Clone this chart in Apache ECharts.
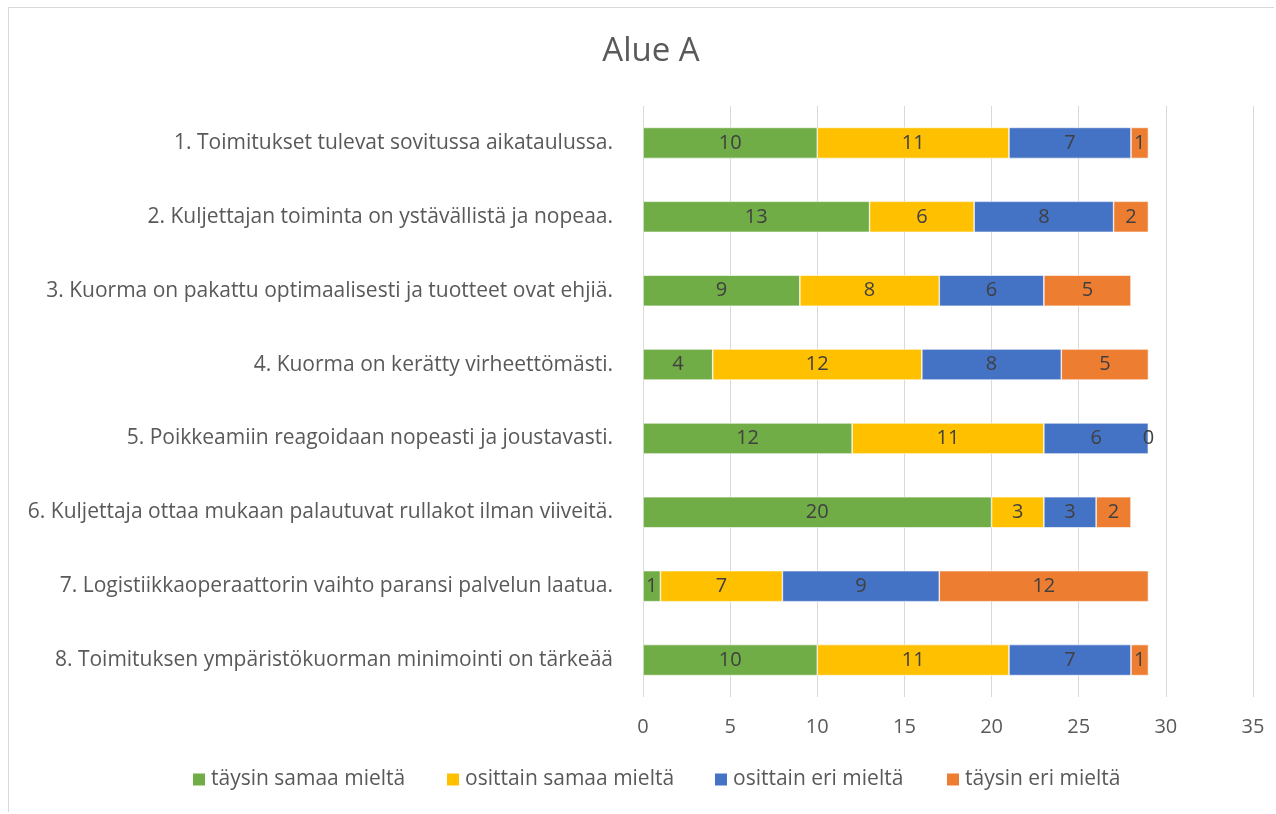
<!DOCTYPE html>
<html><head><meta charset="utf-8">
<script src="https://cdn.jsdelivr.net/npm/echarts@6/dist/echarts.min.js"></script>
<style>
html,body{margin:0;padding:0;background:#fff;}
#frame{position:absolute;left:8px;top:7px;width:1266px;height:805px;border-left:1px solid #d9d9d9;border-top:1px solid #d9d9d9;box-sizing:border-box;}
#c{position:absolute;left:0;top:0;width:1276px;height:814px;}
</style></head>
<body>
<div id="frame"></div>
<div id="c"></div>
<script>
const categories = [
  "1. Toimitukset tulevat sovitussa aikataulussa.",
  "2. Kuljettajan toiminta on ystävällistä ja nopeaa.",
  "3. Kuorma on pakattu optimaalisesti ja tuotteet ovat ehjiä.",
  "4. Kuorma on kerätty virheettömästi.",
  "5. Poikkeamiin reagoidaan nopeasti ja joustavasti.",
  "6. Kuljettaja ottaa mukaan palautuvat rullakot ilman viiveitä.",
  "7. Logistiikkaoperaattorin vaihto paransi palvelun laatua.",
  "8. Toimituksen ympäristökuorman minimointi on tärkeää"
];
const seriesNames = ["täysin samaa mieltä","osittain samaa mieltä","osittain eri mieltä","täysin eri mieltä"];
const taysinSamaa = [10,13,9,4,12,20,1,10];
const osittainSamaa = [11,6,8,12,11,3,7,11];
const osittainEri = [7,8,6,8,6,3,9,7];
const taysinEri = [1,2,5,5,0,2,12,1];
const colors = ["#70AD47","#FFC000","#4472C4","#ED7D31"];
const values = [taysinSamaa, osittainSamaa, osittainEri, taysinEri];
const legendLefts = [191, 445, 713, 945];
const font = "'Open Sans', 'Noto Sans', sans-serif";

const chart = echarts.init(document.getElementById('c'));
chart.setOption({
  animation:false,
  textStyle:{fontFamily:font},
  title:{text:"Alue A",left:646,top:30,textAlign:'center',textStyle:{fontFamily:font,fontSize:33,fontWeight:'normal',color:'#595959'}},
  legend: seriesNames.map((n,i)=>({bottom:24,left:legendLefts[i],padding:0,itemWidth:14,itemHeight:14,icon:'rect',
    textStyle:{fontFamily:font,fontSize:21,color:'#595959'},data:[n]})),
  grid:{left:643,right:23,top:106,bottom:117,containLabel:false},
  xAxis:{type:'value',min:0,max:35,interval:5,
    axisLabel:{fontSize:20,color:'#595959',margin:20,fontFamily:font},
    splitLine:{lineStyle:{color:'#d9d9d9',width:1}},axisLine:{show:false},axisTick:{show:false}},
  yAxis:{type:'category',inverse:true,data:categories,
    axisLabel:{fontSize:21,color:'#595959',margin:30,fontFamily:font},
    axisLine:{show:false},axisTick:{show:false}},
  series: values.map((v,i)=>({
    name:seriesNames[i],type:'bar',stack:'s',data:v,barWidth:31,
    itemStyle:{color:colors[i],borderColor:'#fff',borderWidth:0.6},
    label:{show:true,position:'inside',color:'#404040',fontSize:20,fontFamily:font}
  }))
});
</script>
</body></html>
